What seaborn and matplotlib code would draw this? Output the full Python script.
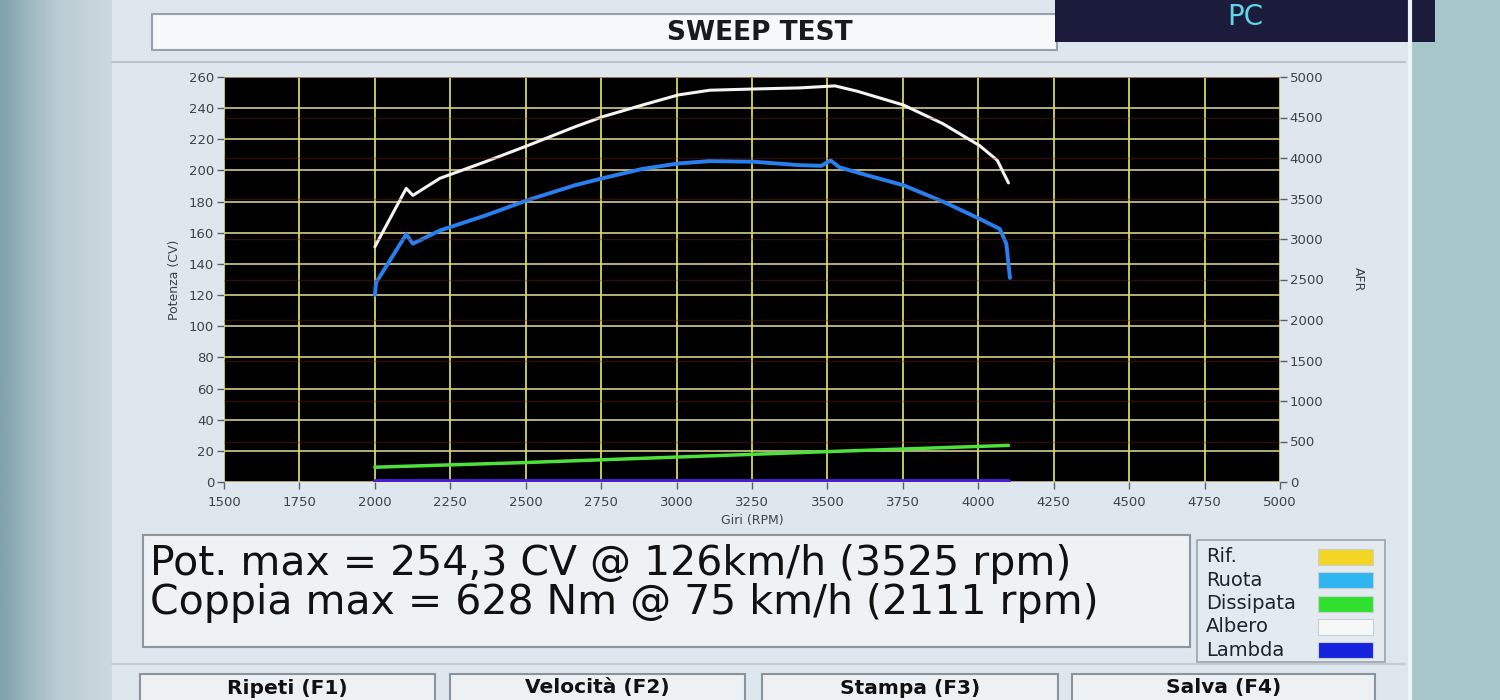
import matplotlib
matplotlib.use("Agg")
import matplotlib.pyplot as plt
import numpy as np
import seaborn as sns
from matplotlib.colors import LinearSegmentedColormap
from matplotlib.patches import Rectangle

# curve readings (RPM, CV)
rpm_albero = [2000, 2104, 2126, 2216, 2365, 2507, 2663, 2755, 2887, 3006, 3110,
              3255, 3408, 3525, 3600, 3752, 3883, 4004, 4063, 4100]
cv_albero = [151, 188.5, 184, 195, 205.5, 216, 228, 234.5, 242, 248.5, 251.5,
             252.3, 253, 254.3, 250.8, 242, 230, 216, 206.5, 192]

rpm_ruota = [2000, 2004, 2104, 2126, 2216, 2365, 2507, 2663, 2755, 2887, 3006, 3110,
             3255, 3408, 3480, 3510, 3540, 3630, 3752, 3883, 4004, 4071, 4093, 4105]
cv_ruota = [120, 128, 159, 153, 161.5, 171, 181, 190.5, 195, 201, 204.5, 206,
            205.6, 203.4, 203, 206.5, 202, 197, 190.5, 180, 169, 162.5, 153, 131]

rpm_dissipata = [2000, 2500, 3000, 3500, 4100]
cv_dissipata = [9.5, 12.5, 16, 19.5, 23.5]

rpm_lambda = [2000, 4100]
cv_lambda = [0.8, 0.8]

x_ticks = list(range(1500, 5001, 250))
y_ticks = list(range(0, 261, 20))
afr_ticks = list(range(0, 5001, 500))

legend_labels = ["Rif.", "Ruota", "Dissipata", "Albero", "Lambda"]
legend_colors = ["#f2d623", "#2fb6ee", "#2fe02f", "#f6f8f8", "#1524dc"]
button_labels = ["Ripeti (F1)", "Velocità (F2)", "Stampa (F3)", "Salva (F4)"]
info_lines = ["Pot. max = 254,3 CV @ 126km/h (3525 rpm)",
              "Coppia max = 628 Nm @ 75 km/h (2111 rpm)"]

sns.set_theme(style="dark")
plt.rcParams["font.family"] = ["DejaVu Sans"]
wide = ["DejaVu Sans"]

fig = plt.figure(figsize=(15, 7), dpi=100)

# screen background drawn in pixel coordinates
bg = fig.add_axes([0, 0, 1, 1])
bg.axis("off")
left_cmap = LinearSegmentedColormap.from_list("edge", ["#7fa2ab", "#b9cbd3", "#cdd9e0"])
bg.imshow(np.linspace(0, 1, 100)[None, :], extent=[0, 112, 700, 0], cmap=left_cmap, aspect="auto")
bg.add_patch(Rectangle((112, 0), 1300, 700, fc="#dfe7ee", ec="none"))
bg.add_patch(Rectangle((1412, 0), 88, 700, fc="#a7c7cb", ec="none"))
bg.plot([1410, 1410], [0, 700], color="#eef4f6", lw=3)
bg.plot([112, 1405], [62, 62], color="#b9c3cb", lw=1.5)
bg.plot([112, 1405], [664, 664], color="#c3cbd1", lw=1.5)

bg.add_patch(Rectangle((152, 14), 905, 36, fc="#f6f8fa", ec="#98a2aa", lw=1.5))
bg.text(760, 33, "SWEEP TEST", ha="center", va="center", fontsize=19,
        fontweight="bold", color="#1a1a1a", family=wide)
bg.add_patch(Rectangle((1055, -5), 380, 47, fc="#1b1c3c", ec="none"))
bg.text(1245, 17, "PC", ha="center", va="center", fontsize=20, color="#62d6e6", family=wide)

bg.add_patch(Rectangle((143, 535), 1047, 112, fc="#eef2f5", ec="#8c969e", lw=1.5))
for i, line in enumerate(info_lines):
    bg.text(150, 564 + i * 39, line, ha="left", va="center", fontsize=29.5,
            color="#111111", family=wide)

bg.add_patch(Rectangle((1197, 540), 188, 122, fc="#e4ebf0", ec="#9aa4ac", lw=1.2))
for i, (lab, col) in enumerate(zip(legend_labels, legend_colors)):
    y = 557 + i * 23.3
    bg.text(1206, y, lab, ha="left", va="center", fontsize=14, color="#1c2430", family=wide)
    bg.add_patch(Rectangle((1318, y - 8), 55, 16, fc=col, ec="#c8d0d6", lw=0.8))

button_x = [(140, 435), (450, 745), (762, 1058), (1072, 1375)]
for (x0, x1), lab in zip(button_x, button_labels):
    bg.add_patch(Rectangle((x0, 674), x1 - x0, 40, fc="#eef1f3", ec="#8a949c", lw=1.5))
    bg.text((x0 + x1) / 2, 688, lab, ha="center", va="center", fontsize=14.5,
            fontweight="bold", color="#111111", family=wide)

bg.set_xlim(0, 1500)
bg.set_ylim(700, 0)

# dyno chart
ax = fig.add_axes([224 / 1500, 1 - 482 / 700, 1056 / 1500, 405 / 700])
ax.set_facecolor("black")
ax2 = ax.twinx()

for t in afr_ticks:
    ax2.axhline(t, color="#7a2420", lw=1, alpha=0.4, zorder=0)
for t in y_ticks:
    ax.axhline(t, color="#c4bc84", lw=1.3, zorder=1)
for t in x_ticks:
    ax.axvline(t, color="#d8d85a", lw=1.3, zorder=1)

sns.lineplot(x=rpm_lambda, y=cv_lambda, ax=ax, color="#4a1ed8", lw=3.5, sort=False, estimator=None, zorder=3)
sns.lineplot(x=rpm_dissipata, y=cv_dissipata, ax=ax, color="#4ee03c", lw=2.5, sort=False, estimator=None, zorder=3)
sns.lineplot(x=rpm_ruota, y=cv_ruota, ax=ax, color="#2a7ff0", lw=2.8, sort=False, estimator=None, zorder=3)
sns.lineplot(x=rpm_albero, y=cv_albero, ax=ax, color="#f4f4f4", lw=2.2, sort=False, estimator=None, zorder=4)

ax.set_xlim(1500, 5000)
ax.set_ylim(0, 260)
ax2.set_ylim(0, 5000)
ax.set_xticks(x_ticks)
ax.set_yticks(y_ticks)
ax2.set_yticks(afr_ticks)
ax.grid(False)
ax2.grid(False)
for a in (ax, ax2):
    for s in a.spines.values():
        s.set_visible(False)
ax.tick_params(axis="both", direction="out", length=5, width=1, color="#556070",
               labelsize=9.5, labelcolor="#3a4450", bottom=True, left=True, pad=2)
ax.tick_params(axis="x", pad=5)
ax2.tick_params(axis="y", direction="out", length=5, width=1, color="#556070",
                labelsize=9.5, labelcolor="#3a4450", right=True, pad=2)
ax.set_xlabel("Giri (RPM)", fontsize=9, color="#3a4450", labelpad=4)
ax.set_ylabel("Potenza (CV)", fontsize=9, color="#3a4450", labelpad=6)
ax2.set_ylabel("AFR", fontsize=9, color="#3a4450", rotation=270, labelpad=30)

fig.savefig("out.png", dpi=100)
